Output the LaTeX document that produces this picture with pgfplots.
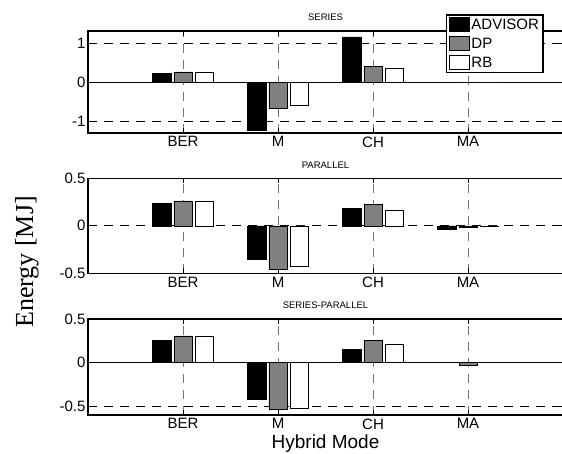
\documentclass[border=0pt]{standalone}
\usepackage{pgfplots}
\pgfplotsset{compat=1.18}
\usepackage{fontspec}
\setmainfont{Liberation Sans}
\newfontfamily\serifont{Liberation Serif}

\pgfplotsset{
  myaxis/.style={
    scale only axis, width=475pt, xmin=0, xmax=5,
    xtick={1,2,3,4}, xticklabels={BER,M,CH,MA},
    tick align=inside, major tick length=5pt,
    every tick/.style={black, line width=0.8pt},
    axis line style={line width=1.1pt},
    xmajorgrids, ymajorgrids,
    major x grid style={black!55, line width=0.8pt, dash pattern=on 9pt off 7pt},
    major y grid style={black, line width=0.8pt, dash pattern=on 9pt off 7pt},
    tick label style={font=\fontsize{15}{15}\selectfont},
    yticklabel style={xshift=1pt},
    /pgf/number format/assume math mode=true,
    title style={font=\fontsize{9.5}{9.5}\selectfont, at={(axis description cs:0.5,1)}, anchor=base, yshift=4.3pt},
    anchor=south west,
  },
  barA/.style={ybar, bar width=0.19, bar shift=-0.223, fill=black, draw=black, line width=0.6pt},
  barB/.style={ybar, bar width=0.19, bar shift=0, fill=black!50, draw=black, line width=0.6pt},
  barC/.style={ybar, bar width=0.19, bar shift=0.221, fill=white, draw=black, line width=0.6pt},
}

\begin{document}
\begin{tikzpicture}
\useasboundingbox (0,0) rectangle (562pt,-453pt);

% SERIES
\begin{axis}[myaxis, at={(88pt,-133pt)}, height=102pt,
  ymin=-1.31, ymax=1.31, ytick={-1,0,1}, title={SERIES},
  legend style={at={(axis description cs:0.754,1.162)}, anchor=north west,
    draw=black, line width=1.2pt, font=\fontsize{15}{15}\selectfont,
    inner xsep=2.5pt, inner ysep=2pt, row sep=4pt,
    nodes={inner sep=1.6pt}},
  legend cell align=left,
  legend image code/.code={\draw[#1, line width=0.6pt] (0pt,-7pt) rectangle (20pt,7pt);},
]
\addplot[black, line width=0.8pt, forget plot] coordinates {(0,0) (5,0)};
\addplot[barA] coordinates {(1,0.22) (2,-1.23) (3,1.16) (4,0)};
\addplot[barB] coordinates {(1,0.26) (2,-0.67) (3,0.41) (4,0)};
\addplot[barC] coordinates {(1,0.26) (2,-0.61) (3,0.34) (4,0)};
\legend{ADVISOR,DP,RB}
\end{axis}

% PARALLEL
\begin{axis}[myaxis, at={(88pt,-273.3pt)}, height=95pt,
  ymin=-0.5, ymax=0.5, ytick={-0.5,0,0.5}, title={PARALLEL}]
\addplot[barA] coordinates {(1,0.236) (2,-0.354) (3,0.18) (4,-0.04)};
\addplot[barB] coordinates {(1,0.263) (2,-0.46) (3,0.225) (4,-0.02)};
\addplot[barC] coordinates {(1,0.263) (2,-0.43) (3,0.165) (4,-0.005)};
\end{axis}

% SERIES-PARALLEL
\begin{axis}[myaxis, at={(88pt,-415pt)}, height=96pt,
  ymin=-0.6, ymax=0.5, ytick={-0.5,0,0.5}, title={SERIES-PARALLEL},
  xlabel={Hybrid Mode},
  xlabel style={font=\fontsize{19}{19}\selectfont, at={(axis description cs:0.5,0)}, anchor=base, yshift=-33.5pt}]
\addplot[black, line width=0.8pt, forget plot] coordinates {(0,0) (5,0)};
\addplot[barA] coordinates {(1,0.256) (2,-0.42) (3,0.15) (4,0)};
\addplot[barB] coordinates {(1,0.306) (2,-0.53) (3,0.253) (4,-0.03)};
\addplot[barC] coordinates {(1,0.306) (2,-0.52) (3,0.21) (4,0)};
\end{axis}

\node[rotate=90, anchor=base, font=\serifont\fontsize{26}{26}\selectfont] at (33pt,-262pt) {Energy [MJ]};
\end{tikzpicture}
\end{document}
